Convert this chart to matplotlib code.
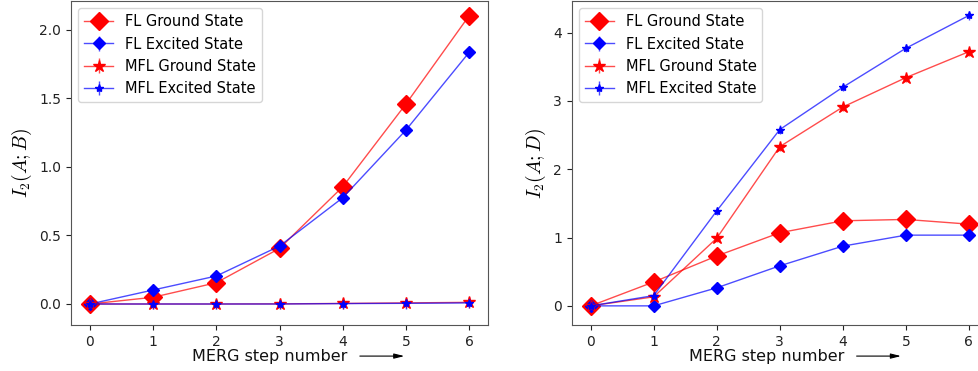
import numpy as np
import matplotlib
matplotlib.use('Agg')
import matplotlib.pyplot as plt

plt.rcParams['mathtext.fontset'] = 'cm'

steps = [0, 1, 2, 3, 4, 5, 6]
labels = ['FL Ground State', 'FL Excited State', 'MFL Ground State', 'MFL Excited State']

# I2(A;B)
ab_fl_ground = [0.0, 0.049, 0.155, 0.405, 0.854, 1.457, 2.10]
ab_fl_excited = [0.0, 0.102, 0.204, 0.422, 0.774, 1.267, 1.833]
ab_mfl_ground = [0.0, 0.0, 0.0, 0.001, 0.004, 0.008, 0.012]
ab_mfl_excited = [0.0, 0.0, 0.0, 0.0, 0.003, 0.005, 0.008]
ab_err = 0.04

# I2(A;D)
ad_fl_ground = [0.0, 0.35, 0.73, 1.07, 1.245, 1.265, 1.196]
ad_fl_excited = [0.0, 0.0, 0.264, 0.586, 0.874, 1.035, 1.035]
ad_mfl_ground = [0.0, 0.132, 0.99, 2.33, 2.91, 3.34, 3.72]
ad_mfl_excited = [0.0, 0.15, 1.39, 2.58, 3.20, 3.77, 4.25]
ad_err = 0.06

red_line = (1.0, 0.0, 0.0, 0.7)
blue_line = (0.0, 0.0, 1.0, 0.7)
styles = [
    dict(color=red_line, mfc='red', mec='red', marker='D', markersize=9),
    dict(color=blue_line, mfc='blue', mec='blue', marker='D', markersize=6),
    dict(color=red_line, mfc='red', mec='red', marker='*', markersize=9),
    dict(color=blue_line, mfc='blue', mec='blue', marker='*', markersize=6),
]

fig = plt.figure(figsize=(9.79, 3.71), dpi=100)
ax1 = fig.add_axes([0.0725, 0.124, 0.426, 0.873])
ax2 = fig.add_axes([0.584, 0.124, 0.425, 0.873])


def draw(ax, series, err, ylabel, ylim, yticks, yfmt):
    for ys, lab, st in zip(series, labels, styles):
        ax.errorbar(steps, ys, yerr=err, label=lab, linewidth=1.0,
                    elinewidth=1.0, capsize=0, **st)
    ax.set_xlim(-0.3, 6.3)
    ax.set_ylim(*ylim)
    ax.set_xticks(steps)
    ax.set_yticks(yticks)
    ax.set_yticklabels([yfmt.format(t) for t in yticks])
    ax.tick_params(labelsize=10, colors='#222222')
    for sp in ax.spines.values():
        sp.set_color('#555555')
    ax.set_ylabel(ylabel, fontsize=14)
    ax.legend(loc='upper left', fontsize=10.5)


draw(ax1, [ab_fl_ground, ab_fl_excited, ab_mfl_ground, ab_mfl_excited], ab_err,
     r'$I_2(A;B)$', (-0.153, 2.207), [0.0, 0.5, 1.0, 1.5, 2.0], '{:.1f}')
draw(ax2, [ad_fl_ground, ad_fl_excited, ad_mfl_ground, ad_mfl_excited], ad_err,
     r'$I_2(A;D)$', (-0.28, 4.46), [0, 1, 2, 3, 4], '{:d}')

for ax, tx, a0, a1 in [(ax1, 0.477, 0.686, 0.806), (ax2, 0.469, 0.678, 0.798)]:
    ax.text(tx, -0.096, 'MERG step number', transform=ax.transAxes,
            ha='center', va='center', fontsize=11.5, color='#111111')
    ax.annotate('', xy=(a1, -0.096), xytext=(a0, -0.096),
                xycoords='axes fraction', textcoords='axes fraction',
                arrowprops=dict(arrowstyle='-|>,head_width=0.15,head_length=0.6',
                                color='black', lw=0.8), annotation_clip=False)

fig.savefig('out.png', dpi=100)
